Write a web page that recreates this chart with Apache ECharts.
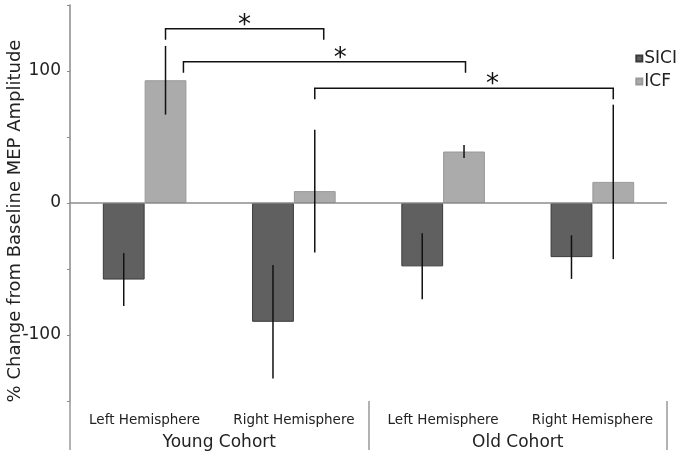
<!DOCTYPE html>
<html lang="en">
<head>
    <meta charset="UTF-8">
    <title>MEP change</title>
    <script src="https://cdn.jsdelivr.net/npm/echarts@6/dist/echarts.min.js"></script>
</head>
<style type="text/css">
    body{
        margin:0;
    }
    #chart{
        width: 680px;
        height: 457px;
    }
</style>
<body>
    <div id="chart"></div>
</body>
<script type="text/javascript">
var FONT = '"DejaVu Sans", sans-serif';

// hemisphere categories, grouped by cohort
var hemispheres = ['Left Hemisphere', 'Right Hemisphere', 'Left Hemisphere', 'Right Hemisphere'];
var cohorts = ['Young Cohort', 'Old Cohort'];

// mean % change and error (+/-)
var sici = [-58, -90, -48, -41];
var siciErr = [20, 43, 25, 16.5];
var icf = [93, 9, 39, 16];
var icfErr = [26, 46.5, 5, 58.5];

// significance brackets: [from category, from offset, to category, to offset, level]
var brackets = [
    [0, 0.14, 1, 0.20, 132],
    [0, 0.26, 2, 0.15, 107],
    [1, 0.14, 3, 0.14, 87]
];
// where the star sits on each bracket: [category, offset]
var stars = [
    [0, 0.67],
    [1, 0.31],
    [2, 0.33]
];

function errData(vals, errs) {
    return vals.map(function(v, i) {
        return [i, v - errs[i], v + errs[i]];
    });
}

function errSeries(name, vals, errs, side) {
    return {
        type: 'custom',
        name: name + ' error',
        data: errData(vals, errs),
        encode: { x: 0, y: [1, 2] },
        silent: true,
        z: 5,
        renderItem: function(params, api) {
            var bw = api.size([1, 0])[0];
            var x = api.coord([api.value(0), 0])[0] + side * 0.14 * bw;
            var y1 = api.coord([api.value(0), api.value(1)])[1];
            var y2 = api.coord([api.value(0), api.value(2)])[1];
            return {
                type: 'line',
                shape: { x1: x, y1: y1, x2: x, y2: y2 },
                style: { stroke: '#111', lineWidth: 1.5 }
            };
        }
    };
}

var bracketData = brackets.map(function(b, i) {
    return b.concat(stars[i]);
});

var option = {
    animation: false,
    backgroundColor: '#fff',
    grid: { left: 70, right: 13, top: 5, bottom: 56 },
    legend: {
        data: ['SICI', 'ICF'],
        orient: 'vertical',
        right: -2,
        top: 45,
        icon: 'rect',
        itemWidth: 6,
        itemHeight: 6,
        itemGap: 6,
        textStyle: { fontFamily: FONT, fontSize: 17, color: '#222', padding: [0, 0, 0, -3] }
    },
    xAxis: [{
        type: 'category',
        data: hemispheres,
        position: 'bottom',
        axisLine: { show: false, onZero: false },
        axisTick: { show: false },
        axisLabel: { interval: 0, margin: 12, fontFamily: FONT, fontSize: 13.5, color: '#222' }
    }, {
        type: 'category',
        data: cohorts,
        position: 'bottom',
        axisLine: { show: false, onZero: false },
        axisTick: { show: true, length: 49, lineStyle: { color: '#999', width: 1.5 } },
        axisLabel: { interval: 0, margin: 33, fontFamily: FONT, fontSize: 17, color: '#222' }
    }],
    yAxis: {
        type: 'value',
        min: -150,
        max: 150,
        interval: 50,
        axisLine: { show: true, lineStyle: { color: '#8a8a8a', width: 1.5 } },
        axisTick: { show: true, length: 3, lineStyle: { color: '#8a8a8a' } },
        splitLine: { show: false },
        axisLabel: {
            margin: 9,
            fontFamily: FONT,
            fontSize: 17,
            color: '#222',
            formatter: function(v) { return v % 100 === 0 && Math.abs(v) < 150 ? String(v) : ''; }
        }
    },
    graphic: [{
        type: 'text',
        x: 15,
        y: 221,
        rotation: Math.PI / 2,
        style: {
            text: '% Change from Baseline MEP Amplitude',
            fontFamily: FONT,
            fontSize: 18,
            fill: '#222',
            align: 'center',
            verticalAlign: 'middle'
        }
    }],
    series: [{
        name: 'SICI',
        type: 'bar',
        data: sici,
        barWidth: '28%',
        barGap: '0%',
        itemStyle: { color: '#606060', borderColor: '#3a3a3a', borderWidth: 1 },
        markLine: {
            silent: true,
            symbol: 'none',
            label: { show: false },
            lineStyle: { color: '#8c8c8c', width: 1.5, type: 'solid' },
            data: [{ yAxis: 0 }]
        }
    }, {
        name: 'ICF',
        type: 'bar',
        data: icf,
        barWidth: '28%',
        barGap: '0%',
        itemStyle: { color: '#ababab', borderColor: '#999', borderWidth: 1 }
    },
    errSeries('SICI', sici, siciErr, -1),
    errSeries('ICF', icf, icfErr, 1),
    {
        type: 'custom',
        name: 'significance',
        data: bracketData,
        encode: { x: 0, y: 4 },
        silent: true,
        z: 6,
        renderItem: function(params, api) {
            var bw = api.size([1, 0])[0];
            var x1 = api.coord([api.value(0), 0])[0] + api.value(1) * bw;
            var x2 = api.coord([api.value(2), 0])[0] + api.value(3) * bw;
            var y = api.coord([0, api.value(4)])[1];
            var xs = api.coord([api.value(5), 0])[0] + api.value(6) * bw;
            return {
                type: 'group',
                children: [{
                    type: 'polyline',
                    shape: { points: [[x1, y + 11], [x1, y], [x2, y], [x2, y + 11]] },
                    style: { stroke: '#111', lineWidth: 1.5, fill: null }
                }, {
                    type: 'text',
                    x: xs,
                    y: y - 3,
                    style: {
                        text: '*',
                        fontFamily: FONT,
                        fontSize: 26,
                        fill: '#111',
                        align: 'center',
                        verticalAlign: 'middle'
                    }
                }]
            };
        }
    }]
};

var myChart = echarts.init(document.getElementById('chart'));
myChart.setOption(option);
</script>
</html>
